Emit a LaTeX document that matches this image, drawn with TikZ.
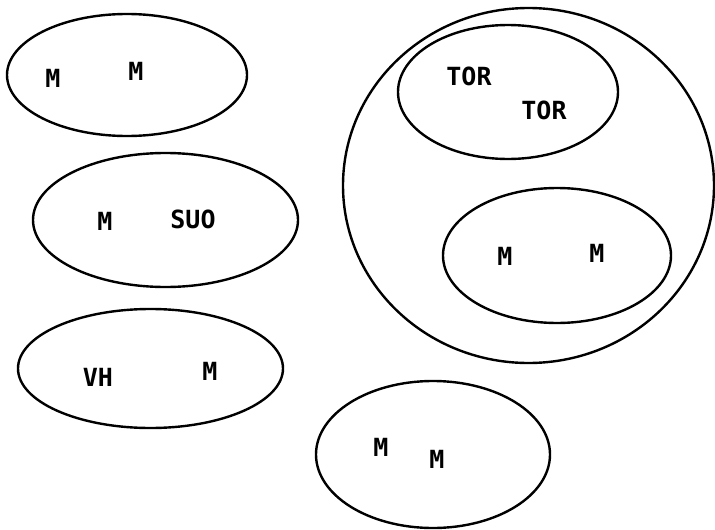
\documentclass[tikz,border=0pt]{standalone}
\usepackage{fontspec}
\newfontfamily\pixfont{DejaVu Sans Mono}
\begin{document}
\begin{tikzpicture}[x=1pt,y=-1pt,
  blob/.style={draw=black,line width=2.4pt},
  lbl/.style={font=\pixfont\bfseries\fontsize{25}{25}\selectfont,inner sep=0pt,text=black}]
\useasboundingbox (0,0) rectangle (715,530);
\fill[white] (0,0) rectangle (715,530);
% ellipses
\draw[blob] (127,75) ellipse [x radius=120,y radius=61];
\draw[blob] (165.5,220) ellipse [x radius=132.5,y radius=67];
\draw[blob] (150.5,368.5) ellipse [x radius=132.5,y radius=59.5];
\draw[blob] (528.5,185.5) ellipse [x radius=185.5,y radius=177.5];
\draw[blob] (508,92) ellipse [x radius=110,y radius=67];
\draw[blob] (557,255.5) ellipse [x radius=114,y radius=67.5];
\draw[blob] (433,454.5) ellipse [x radius=117,y radius=73.5];
% labels
\node[lbl] (a1) at (53,78) {M};
\node[lbl] (a2) at (136,71) {M};
\node[lbl] (b1) at (105,221) {M};
\node[lbl] (b2) at (193,219) {SUO};
\node[lbl] (c1) at (98,377) {VH};
\node[lbl] (c2) at (210,371) {M};
\node[lbl] (d1) at (469,76) {TOR};
\node[lbl] (d2) at (544,110) {TOR};
\node[lbl] (e1) at (505,256) {M};
\node[lbl] (e2) at (597,253) {M};
\node[lbl] (f1) at (381,447) {M};
\node[lbl] (f2) at (437,459) {M};
\end{tikzpicture}
\end{document}
